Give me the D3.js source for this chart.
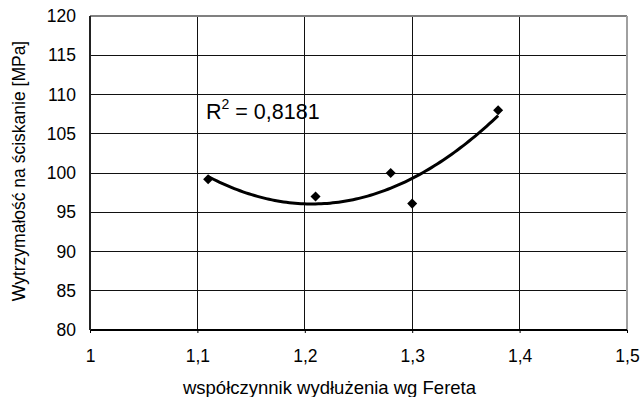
<!DOCTYPE html>
<html><head><meta charset="utf-8">
<script src="https://cdn.jsdelivr.net/npm/d3@7"></script>
<style>body{margin:0;background:#fff}svg{display:block}text{font-family:"Liberation Sans",Arial,sans-serif;fill:#000}</style>
</head><body>
<svg id="c" width="643" height="397"></svg>
<script>
const xValues = [1.11, 1.21, 1.28, 1.30, 1.38];
const yValues = [99.2, 97.0, 100.0, 96.1, 108.0];
const xTicks = [1, 1.1, 1.2, 1.3, 1.4, 1.5];
const yTicks = [80, 85, 90, 95, 100, 105, 110, 115, 120];
const r2Label = "0,8181";
const xTitle = "współczynnik wydłużenia wg Fereta";
const yTitle = "Wytrzymałość na ściskanie [MPa]";

const svg = d3.select("#c");
const L = 90, R = 627, T = 16, B = 330;
const x = d3.scaleLinear().domain([1, 1.5]).range([L, R]);
const y = d3.scaleLinear().domain([80, 120]).range([B, T]);
const fmt = d => String(d).replace(".", ",");

// gridlines
svg.append("g").selectAll("line").data(yTicks.slice(1, -1)).join("line")
  .attr("x1", L).attr("x2", R).attr("y1", d => y(d)).attr("y2", d => y(d))
  .attr("stroke", "#111").attr("stroke-width", 1).attr("shape-rendering", "crispEdges");
svg.append("g").selectAll("line").data(xTicks.slice(1, -1)).join("line")
  .attr("y1", T).attr("y2", B).attr("x1", d => x(d)).attr("x2", d => x(d))
  .attr("stroke", "#111").attr("stroke-width", 1).attr("shape-rendering", "crispEdges");

// frame top/right
svg.append("line").attr("x1", L).attr("x2", R).attr("y1", T).attr("y2", T).attr("stroke", "#808080").attr("stroke-width", 2);
svg.append("line").attr("x1", R).attr("x2", R).attr("y1", T).attr("y2", B).attr("stroke", "#a0a0a0").attr("stroke-width", 2);

// axes
const xAxis = d3.axisBottom(x).tickValues(xTicks).tickFormat(fmt).tickSize(3).tickPadding(17);
const gx = svg.append("g").attr("transform", `translate(0,${B})`).call(xAxis);
gx.select(".domain").attr("stroke", "#000").attr("stroke-width", 2).attr("d", `M${L},0H${R}`);
gx.selectAll(".tick line").attr("stroke", "#000");
gx.selectAll("text").style("font-size", "17.5px").attr("font-family", "Liberation Sans, Arial, sans-serif");

const yAxis = d3.axisLeft(y).tickValues(yTicks).tickFormat(fmt).tickSize(0).tickPadding(14);
const gy = svg.append("g").attr("transform", `translate(${L},0)`).call(yAxis);
gy.select(".domain").attr("stroke", "#222").attr("stroke-width", 2).attr("d", `M0,${T}V${B}`);
gy.selectAll("text").style("font-size", "17.5px").attr("font-family", "Liberation Sans, Arial, sans-serif");

// quadratic least-squares trend
function polyfit2(xs, ys) {
  const n = xs.length;
  let S = [0,0,0,0,0], Ty = [0,0,0];
  for (let i = 0; i < n; i++) {
    let p = 1;
    for (let k = 0; k < 5; k++) { S[k] += p; if (k < 3) Ty[k] += p * ys[i]; p *= xs[i]; }
  }
  const A = [[S[0],S[1],S[2],Ty[0]],[S[1],S[2],S[3],Ty[1]],[S[2],S[3],S[4],Ty[2]]];
  for (let i = 0; i < 3; i++) {
    for (let j = i + 1; j < 3; j++) {
      const f = A[j][i] / A[i][i];
      for (let k = i; k < 4; k++) A[j][k] -= f * A[i][k];
    }
  }
  const c = [0,0,0];
  for (let i = 2; i >= 0; i--) {
    let s = A[i][3];
    for (let k = i + 1; k < 3; k++) s -= A[i][k] * c[k];
    c[i] = s / A[i][i];
  }
  return c;
}
const c = polyfit2(xValues, yValues);
const xmin = d3.min(xValues), xmax = d3.max(xValues);
const trend = d3.range(0, 101).map(i => { const xv = xmin + (xmax - xmin) * i / 100; return [xv, c[0] + c[1]*xv + c[2]*xv*xv]; });
svg.append("path").datum(trend)
  .attr("d", d3.line().x(d => x(d[0])).y(d => y(d[1])))
  .attr("fill", "none").attr("stroke", "#000").attr("stroke-width", 3);

// markers
svg.append("g").selectAll("path").data(xValues.map((d, i) => [d, yValues[i]])).join("path")
  .attr("d", d3.symbol(d3.symbolDiamond2, 64))
  .attr("transform", d => `translate(${x(d[0])},${y(d[1])})`)
  .attr("fill", "#000");

// R2 label
const r2 = svg.append("text").attr("x", 206).attr("y", 119).style("font-size", "21.5px");
r2.append("tspan").text("R");
r2.append("tspan").attr("dy", -10).style("font-size", "14px").text("2");
r2.append("tspan").attr("dy", 10).text(" = " + r2Label);

// titles
svg.append("text").attr("x", 329.5).attr("y", 394).attr("text-anchor", "middle").style("font-size", "18.5px").text(xTitle);
svg.append("text").attr("transform", `translate(25,171) rotate(-90)`).attr("text-anchor", "middle").style("font-size", "17.5px").text(yTitle);
</script>
</body></html>
